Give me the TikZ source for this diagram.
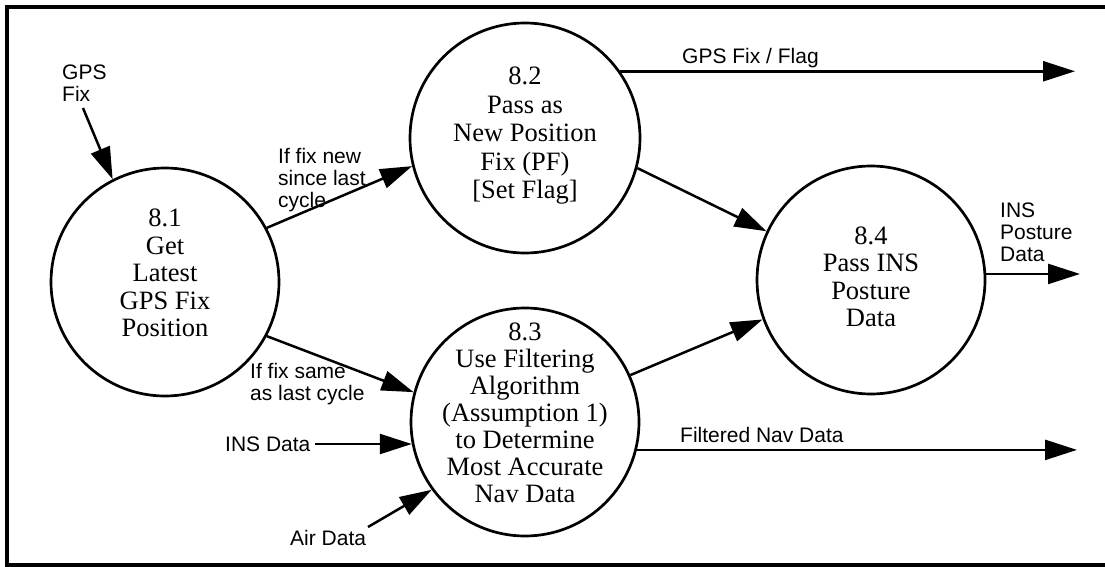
\documentclass[tikz,border=0pt]{standalone}
\usepackage{fontspec}
\setmainfont{Liberation Serif}
\setsansfont{Liberation Sans}
\usetikzlibrary{arrows.meta}
\begin{document}
\begin{tikzpicture}[x=1pt,y=-1pt,
  proc/.style={circle,draw,line width=2.7pt,minimum size=228pt,inner sep=0pt},
  ptext/.style={align=center,font=\fontsize{26.5}{27.5}\selectfont,inner sep=0pt},
  lbl/.style={align=left,font=\sffamily\fontsize{21}{22}\selectfont,inner sep=0pt,anchor=north west},
  flow/.style={line width=2.5pt,-{Triangle[length=32pt,width=20pt]}}]
\useasboundingbox (0,0) rectangle (1105,567);
\draw[line width=3.3pt] (1105,7) -- (7,7) -- (7,565) -- (1105,565);

\node[proc] (c81) at (165,282) {};
\node[proc, minimum size=230pt] (c82) at (525,138) {};
\node[proc] (c83) at (525,422) {};
\node[proc] (c84) at (871,280) {};

\node[ptext] (t81) at (165,273) {8.1\\Get\\Latest\\GPS Fix\\Position};
\node[ptext, font=\fontsize{26.5}{28.5}\selectfont] (t82) at (525,136) {8.2\\Pass as\\New Position\\Fix (PF)\\{[}Set Flag{]}};
\node[ptext, font=\fontsize{26.5}{27}\selectfont] (t83) at (525,413) {8.3\\Use Filtering\\Algorithm\\(Assumption 1)\\to Determine\\Most Accurate\\Nav Data};
\node[ptext] (t84) at (871,277) {8.4\\Pass INS\\Posture\\Data};

\node[lbl] (lgps) at (62,65) {GPS\\Fix};
\node[lbl] (lnew) at (278,148) {If fix new\\since last\\cycle};
\node[lbl] (lflag) at (682,48) {GPS Fix / Flag};
\node[lbl] (lpost) at (1000,203) {INS\\Posture\\Data};
\node[lbl] (lsame) at (250,363) {If fix same\\as last cycle};
\node[lbl] (lins) at (225,437) {INS Data};
\node[lbl] (lair) at (290,530) {Air Data};
\node[lbl] (lfilt) at (680,427) {Filtered Nav Data};

\coordinate (gpsS) at (83,108);
\coordinate (insS) at (315,445);
\coordinate (airS) at (368,527);
\coordinate (flagE) at (1075,72);
\coordinate (postE) at (1080,273);
\coordinate (filtE) at (1077,448);

\draw[flow] (gpsS) -- (c81.117);
\draw[flow] (c81.28) -- (c82.194.5);
\draw[flow] (c81.332.8) -- (c83.165);
\draw[flow] (c82.345) -- (c84.155.7);
\draw[flow] (c83.24) -- (c84.200);
\draw[flow] (c82.35) -- (c82.35 -| flagE);
\draw[flow] (c84.3.6) -- (c84.3.6 -| postE);
\draw[flow] (c83.346.5) -- (c83.346.5 -| filtE);
\draw[flow] (insS |- c83.191.5) -- (c83.191.5);
\draw[flow] (airS) -- (c83.216);
\end{tikzpicture}
\end{document}
